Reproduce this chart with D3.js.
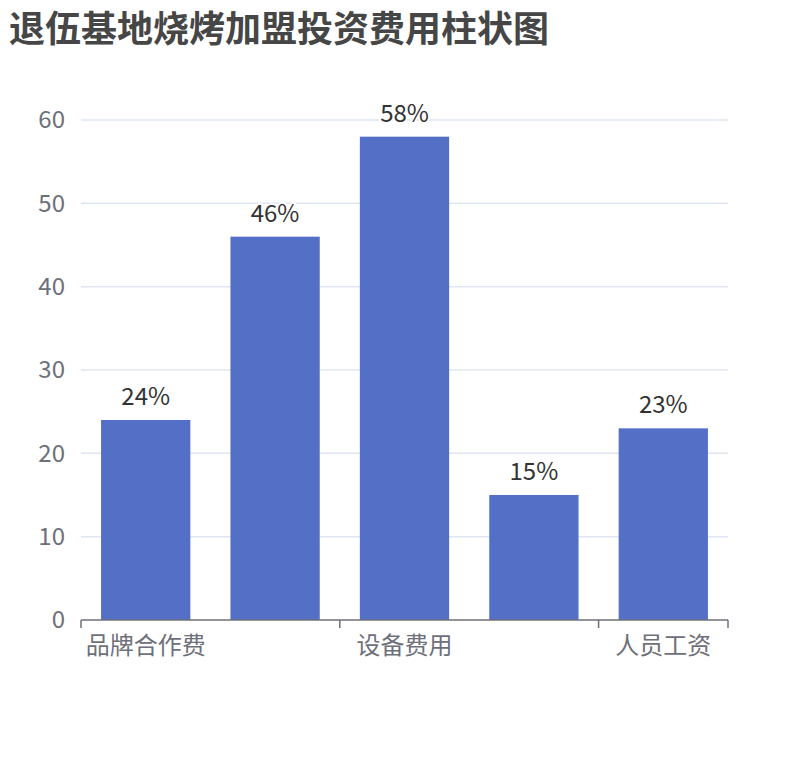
<!DOCTYPE html>
<html>
<head>
<meta charset="utf-8">
<script src="https://cdn.jsdelivr.net/npm/d3@7"></script>
<style>
  body { margin: 0; background: #fff; }
  svg text { font-family: "Noto Sans CJK SC", "Noto Sans", sans-serif; }
</style>
</head>
<body>
<svg id="chart" width="810" height="760"></svg>
<script>
const title = '退伍基地烧烤加盟投资费用柱状图';
const categories = ['品牌合作费', '店铺租金', '设备费用', '装修费用', '人员工资'];
const values = [24, 46, 58, 15, 23];
const yTicks = [0, 10, 20, 30, 40, 50, 60];

const svg = d3.select('#chart');
const margin = { top: 120, left: 81, right: 82, bottom: 140 };
const width = 810, height = 760;

svg.append('text')
    .attr('x', 9)
    .attr('y', 42)
    .attr('font-size', 36)
    .attr('font-weight', 'bold')
    .attr('fill', '#464646')
    .text(title);

const x = d3.scaleBand()
    .domain(categories)
    .range([margin.left, width - margin.right])
    .paddingInner(0.31)
    .paddingOuter(0.155);

const y = d3.scaleLinear()
    .domain([0, 60])
    .range([height - margin.bottom, margin.top]);

// grid lines
svg.append('g')
    .selectAll('line')
    .data(yTicks.slice(1))
    .enter()
    .append('line')
    .attr('x1', margin.left)
    .attr('x2', width - margin.right)
    .attr('y1', d => y(d))
    .attr('y2', d => y(d))
    .attr('stroke', '#e0e6f1')
    .attr('stroke-width', 1.5);

// y labels
svg.append('g')
    .selectAll('text')
    .data(yTicks)
    .enter()
    .append('text')
    .attr('x', 65)
    .attr('y', d => y(d))
    .attr('dy', '0.35em')
    .attr('text-anchor', 'end')
    .attr('font-size', 24)
    .attr('fill', '#6e7079')
    .text(d => d);

// bars
svg.append('g')
    .selectAll('rect')
    .data(values)
    .enter()
    .append('rect')
    .attr('x', (d, i) => x(categories[i]))
    .attr('y', d => y(d))
    .attr('width', x.bandwidth())
    .attr('height', d => y(0) - y(d))
    .attr('fill', '#5470c6');

// value labels
svg.append('g')
    .selectAll('text')
    .data(values)
    .enter()
    .append('text')
    .attr('x', (d, i) => x(categories[i]) + x.bandwidth() / 2)
    .attr('y', d => y(d) - 15)
    .attr('text-anchor', 'middle')
    .attr('font-size', 24)
    .attr('fill', '#333')
    .attr('stroke', '#fff')
    .attr('stroke-width', 3)
    .attr('paint-order', 'stroke')
    .text(d => d + '%');

// x axis
const step = x.step();
const axis = svg.append('g');
axis.append('line')
    .attr('x1', margin.left)
    .attr('x2', width - margin.right)
    .attr('y1', y(0))
    .attr('y2', y(0))
    .attr('stroke', '#6e7079')
    .attr('stroke-width', 1.5);

const tickPos = categories.map((c, i) => margin.left + i * step)
    .filter((p, i) => i % 2 === 0)
    .concat([width - margin.right]);
axis.selectAll('.tick')
    .data(tickPos)
    .enter()
    .append('line')
    .attr('x1', d => d)
    .attr('x2', d => d)
    .attr('y1', y(0))
    .attr('y2', y(0) + 8)
    .attr('stroke', '#6e7079')
    .attr('stroke-width', 1.5);

axis.selectAll('text')
    .data(categories.filter((c, i) => i % 2 === 0))
    .enter()
    .append('text')
    .attr('x', d => x(d) + x.bandwidth() / 2)
    .attr('y', y(0) + 26)
    .attr('dy', '0.35em')
    .attr('text-anchor', 'middle')
    .attr('font-size', 24)
    .attr('fill', '#6e7079')
    .text(d => d);
</script>
</body>
</html>
